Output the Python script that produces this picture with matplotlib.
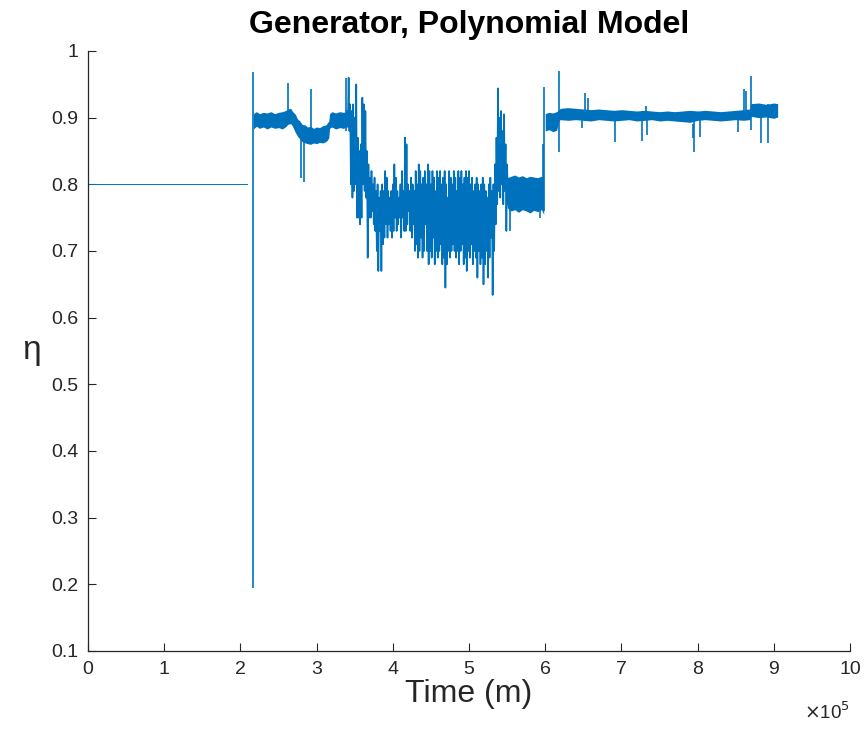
import matplotlib.pyplot as plt
import numpy as np

plt.rcParams['font.family'] = ['Liberation Sans', 'DejaVu Sans']

BLUE = '#0072BD'
GREY = '#262626'

# time in units of 1e5 m
flat_t = [0.0, 2.08]
flat_eta = [0.8, 0.8]

# first stable band (2.17 .. 3.42)
band1_t = [2.17, 2.21, 2.25, 2.30, 2.35, 2.40, 2.45, 2.50, 2.55, 2.60, 2.62,
           2.66, 2.68, 2.72, 2.75, 2.78, 2.81, 2.85, 2.88, 2.92, 2.96, 3.00,
           3.04, 3.08, 3.12, 3.14, 3.16, 3.17, 3.20, 3.25, 3.30, 3.35, 3.40, 3.42]
band1_hi = [0.906, 0.909, 0.906, 0.908, 0.907, 0.909, 0.906, 0.908, 0.909,
            0.911, 0.913, 0.914, 0.910, 0.905, 0.898, 0.895, 0.890, 0.889,
            0.886, 0.887, 0.884, 0.886, 0.885, 0.888, 0.889, 0.892, 0.895,
            0.906, 0.909, 0.907, 0.909, 0.908, 0.909, 0.908]
band1_lo = [0.883, 0.887, 0.884, 0.886, 0.883, 0.886, 0.884, 0.885, 0.883,
            0.887, 0.890, 0.891, 0.888, 0.878, 0.872, 0.868, 0.864, 0.862,
            0.861, 0.860, 0.862, 0.861, 0.863, 0.862, 0.864, 0.866, 0.870,
            0.884, 0.886, 0.883, 0.885, 0.884, 0.886, 0.885]

# chaotic stretch (3.40 .. 5.50), one hi/lo pair every 0.02
chaos_t0, chaos_t1 = 3.40, 5.50
chaos_hi = [0.91, 0.96, 0.92, 0.91, 0.92, 0.90, 0.95, 0.87, 0.85, 0.86,
            0.93, 0.92, 0.91, 0.85, 0.83, 0.81, 0.82, 0.80, 0.81, 0.79,
            0.80, 0.78, 0.79, 0.80, 0.79, 0.82, 0.81, 0.79, 0.78, 0.79,
            0.80, 0.83, 0.81, 0.79, 0.78, 0.80, 0.82, 0.79, 0.87, 0.86,
            0.80, 0.79, 0.81, 0.80, 0.79, 0.82, 0.80, 0.83, 0.82, 0.80,
            0.81, 0.82, 0.80, 0.83, 0.82, 0.80, 0.82, 0.81, 0.79, 0.82,
            0.81, 0.82, 0.80, 0.81, 0.82, 0.80, 0.78, 0.82, 0.81, 0.80,
            0.82, 0.81, 0.79, 0.82, 0.81, 0.82, 0.80, 0.81, 0.82, 0.81,
            0.82, 0.80, 0.81, 0.79, 0.80, 0.81, 0.80, 0.79, 0.80, 0.81,
            0.80, 0.79, 0.78, 0.80, 0.81, 0.79, 0.80, 0.83, 0.87, 0.944,
            0.90, 0.91, 0.88, 0.905, 0.86, 0.83]
chaos_lo = [0.89, 0.88, 0.80, 0.78, 0.79, 0.80, 0.75, 0.75, 0.74, 0.75,
            0.80, 0.79, 0.78, 0.69, 0.75, 0.75, 0.76, 0.74, 0.73, 0.70,
            0.67, 0.73, 0.67, 0.71, 0.72, 0.74, 0.72, 0.74, 0.73, 0.72,
            0.73, 0.75, 0.73, 0.74, 0.75, 0.72, 0.75, 0.73, 0.73, 0.74,
            0.76, 0.73, 0.72, 0.74, 0.70, 0.71, 0.69, 0.70, 0.72, 0.69,
            0.70, 0.74, 0.70, 0.68, 0.70, 0.69, 0.72, 0.68, 0.70, 0.69,
            0.70, 0.71, 0.68, 0.69, 0.645, 0.68, 0.70, 0.69, 0.70, 0.71,
            0.70, 0.69, 0.70, 0.68, 0.70, 0.71, 0.68, 0.69, 0.67, 0.70,
            0.69, 0.71, 0.68, 0.70, 0.69, 0.66, 0.70, 0.68, 0.69, 0.65,
            0.68, 0.70, 0.66, 0.69, 0.72, 0.634, 0.70, 0.74, 0.77, 0.79,
            0.78, 0.80, 0.77, 0.79, 0.73, 0.77]

# lower plateau (5.50 .. 5.98)
band2_t = [5.50, 5.55, 5.60, 5.65, 5.70, 5.75, 5.80, 5.85, 5.90, 5.95, 5.98]
band2_hi = [0.810, 0.812, 0.814, 0.811, 0.813, 0.810, 0.812, 0.811, 0.810, 0.812, 0.811]
band2_lo = [0.765, 0.760, 0.762, 0.758, 0.762, 0.760, 0.757, 0.761, 0.759, 0.762, 0.755]

# upper plateau (6.00 .. 9.05)
band3_t = [6.00, 6.05, 6.10, 6.15, 6.18, 6.20, 6.30, 6.40, 6.50, 6.60, 6.70,
           6.80, 6.90, 7.00, 7.10, 7.20, 7.30, 7.40, 7.50, 7.60, 7.70, 7.80,
           7.90, 8.00, 8.10, 8.20, 8.30, 8.40, 8.50, 8.60, 8.68, 8.70, 8.80,
           8.90, 9.00, 9.05]
band3_hi = [0.906, 0.908, 0.907, 0.909, 0.912, 0.914, 0.915, 0.914, 0.913,
            0.912, 0.913, 0.912, 0.911, 0.912, 0.911, 0.910, 0.911, 0.910,
            0.909, 0.910, 0.909, 0.910, 0.911, 0.910, 0.911, 0.910, 0.909,
            0.910, 0.911, 0.912, 0.913, 0.921, 0.922, 0.920, 0.922, 0.921]
band3_lo = [0.880, 0.882, 0.879, 0.881, 0.896, 0.897, 0.896, 0.897, 0.896,
            0.895, 0.897, 0.896, 0.895, 0.896, 0.897, 0.895, 0.896, 0.897,
            0.895, 0.896, 0.895, 0.894, 0.893, 0.896, 0.897, 0.896, 0.895,
            0.896, 0.897, 0.896, 0.897, 0.902, 0.900, 0.901, 0.899, 0.901]

# isolated spikes: time, low, high
spike_t = [2.16, 2.63, 2.79, 2.84, 2.93, 3.39, 5.54, 5.93, 5.97, 5.99, 6.18,
           6.48, 6.52, 6.56, 6.92, 7.27, 7.32, 7.34, 7.94, 7.95, 8.03, 8.53,
           8.61, 8.64, 8.70, 8.83, 8.92]
spike_lo = [0.195, 0.89, 0.809, 0.804, 0.87, 0.88, 0.73, 0.75, 0.78, 0.76,
            0.848, 0.885, 0.90, 0.90, 0.864, 0.865, 0.90, 0.874, 0.87, 0.848,
            0.871, 0.878, 0.90, 0.90, 0.881, 0.862, 0.862]
spike_hi = [0.969, 0.952, 0.88, 0.875, 0.943, 0.959, 0.80, 0.80, 0.86, 0.946,
            0.97, 0.91, 0.937, 0.93, 0.91, 0.91, 0.918, 0.91, 0.89, 0.895,
            0.905, 0.91, 0.943, 0.94, 0.962, 0.92, 0.92]

xticks = list(range(0, 11))
yticks = [0.1, 0.2, 0.3, 0.4, 0.5, 0.6, 0.7, 0.8, 0.9, 1.0]
ylabels = ['0.1', '0.2', '0.3', '0.4', '0.5', '0.6', '0.7', '0.8', '0.9', '1']

fig = plt.figure(figsize=(8.68, 7.38), dpi=100)
ax = fig.add_axes([0.1014, 0.1179, 0.8779, 0.813])

ax.plot(flat_t, flat_eta, color=BLUE, lw=0.7)

# chaotic part as a hi/lo zigzag
n = len(chaos_hi)
ct = np.linspace(chaos_t0, chaos_t1, n)
zt = np.repeat(ct, 2)
zt[1::2] += (ct[1] - ct[0]) / 2
zy = np.empty(2 * n)
zy[0::2] = chaos_hi
zy[1::2] = chaos_lo
ax.plot(zt, zy, color=BLUE, lw=1.2)

for bt, bh, bl in [(band1_t, band1_hi, band1_lo),
                   (band2_t, band2_hi, band2_lo),
                   (band3_t, band3_hi, band3_lo)]:
    ax.fill_between(bt, bl, bh, color=BLUE, lw=0)

ax.vlines(spike_t, spike_lo, spike_hi, color=BLUE, lw=1.2)

ax.set_xlim(0, 10)
ax.set_ylim(0.1, 1.0)
ax.set_xticks(xticks)
ax.set_xticklabels([str(v) for v in xticks])
ax.set_yticks(yticks)
ax.set_yticklabels(ylabels)

for side in ['top', 'right']:
    ax.spines[side].set_visible(False)
for side in ['left', 'bottom']:
    ax.spines[side].set_color(GREY)
    ax.spines[side].set_linewidth(0.9)
ax.tick_params(direction='in', length=6, width=0.8, colors=GREY,
               labelsize=14, pad=7)

ax.set_title('Generator, Polynomial Model', fontsize=23, fontweight='bold',
             color='black', pad=13)
ax.set_xlabel('Time (m)', fontsize=23, color=GREY, labelpad=1)
ax.set_ylabel('η', fontsize=24, color=GREY, rotation=0, labelpad=14,
              va='center')
ax.text(1.0, -0.085, r'$\times$10$^5$', transform=ax.transAxes,
        ha='right', va='top', fontsize=13.5, color=GREY)

fig.savefig('out.png', dpi=100)
